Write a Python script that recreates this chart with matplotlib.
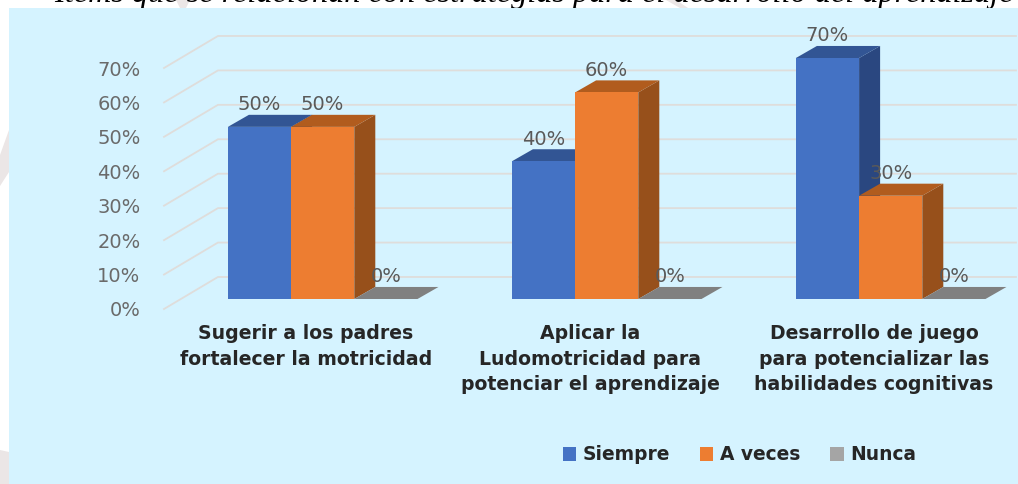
import matplotlib
matplotlib.use('Agg')
import matplotlib.pyplot as plt
from matplotlib.patches import Patch, Polygon, Rectangle

title = 'Ítems que se relacionan con estrategias para el desarrollo del aprendizaje'
categories = ['Sugerir a los padres\nfortalecer la motricidad',
              'Aplicar la\nLudomotricidad para\npotenciar el aprendizaje',
              'Desarrollo de juego\npara potencializar las\nhabilidades cognitivas']
series_names = ['Siempre', 'A veces', 'Nunca']
siempre = [50, 40, 70]
a_veces = [50, 60, 30]
nunca = [0, 0, 0]
y_ticks = [0, 10, 20, 30, 40, 50, 60, 70]

W, H = 1018, 484
fig = plt.figure(figsize=(W / 100, H / 100), dpi=100, facecolor='white')

# faint watermark behind the panel
wm = '#ebe6e6'
for pts in [[(0, 155), (9, 130), (9, 172), (0, 186)],
            [(0, 450), (9, 452), (9, 484), (0, 484)],
            [(176, 0), (190, 0), (186, 8), (180, 8)],
            [(666, 0), (676, 0), (688, 8), (680, 8)]]:
    fig.add_artist(Polygon([(x / W, 1 - y / H) for x, y in pts], color=wm, lw=0,
                           transform=fig.transFigure, zorder=0))

# the title is cut by the top edge in the source too
fig.text(534 / W, 1 - 2 / H, title, family='Liberation Serif', style='italic',
         fontsize=23.2, ha='center', va='baseline', color='black', zorder=1)

fig.add_artist(Rectangle((9 / W, 0), 1 - 9 / W, 1 - 8 / H, color='#d5f3ff', lw=0,
                         transform=fig.transFigure, zorder=2))

ax = fig.add_axes([164 / W, 1 - 309 / H, 852 / W, 241 / H], zorder=3)
ax.patch.set_alpha(0)
ax.set_xlim(-0.5, 2.5)
ax.set_ylim(0, 70)
for s in ax.spines.values():
    s.set_visible(False)

# wall depth and bar depth, data units
wall_dx, wall_dy = 0.19, 9.3
bar_dx, bar_dy = 0.074, 3.5
floor = 2.9      # bars stand a little behind the front edge
bar_w = 0.2225
bar_x0 = 0.275   # left edge of a group, from the category centre
x_pos = list(range(len(categories)))

for t in y_ticks:
    ax.plot([-0.5, -0.5 + wall_dx, 2.5], [t, t + wall_dy, t + wall_dy],
            color='#dfdddb', lw=1.3, clip_on=False, zorder=1)

colors = [('#4472c4', '#325594', '#2a4780'),
          ('#ed7d31', '#b15c1e', '#97501b'),
          ('#a5a5a5', '#808080', '#6b6b6b')]
label_color = '#595959'

for s_i, vals in enumerate([siempre, a_veces, nunca]):
    front, top, side = colors[s_i]
    for c_i, v in zip(x_pos, vals):
        x0 = c_i - bar_x0 + s_i * bar_w
        x1 = x0 + bar_w
        y1 = floor + v
        z = 2 + s_i
        ax.add_patch(Polygon([(x1, floor), (x1 + bar_dx, floor + bar_dy),
                              (x1 + bar_dx, y1 + bar_dy), (x1, y1)],
                             color=side, lw=0, clip_on=False, zorder=z))
        ax.add_patch(Polygon([(x0, y1), (x0 + bar_dx, y1 + bar_dy),
                              (x1 + bar_dx, y1 + bar_dy), (x1, y1)],
                             color=top, lw=0, clip_on=False, zorder=z))
        ax.bar(x0, v, bar_w, bottom=floor, align='edge', color=front, lw=0,
               clip_on=False, zorder=z)
        ax.text((x0 + x1) / 2, y1 + 6.4, f'{v}%', ha='center', va='center',
                fontsize=14, color=label_color, clip_on=False, zorder=10)

ax.set_yticks(y_ticks)
ax.set_yticklabels([f'{t}%' for t in y_ticks])
ax.tick_params(axis='y', length=0, pad=17, labelsize=14, labelcolor='#6a6a6a')
ax.set_xticks(x_pos)
ax.set_xticklabels(categories, fontsize=13.6, fontweight='bold', color='#262626',
                   linespacing=1.42)
ax.tick_params(axis='x', length=0, pad=11)

handles = [Patch(color=colors[i][0], lw=0, label=series_names[i]) for i in range(3)]
leg = fig.legend(handles=handles, loc='center', ncol=3, frameon=False,
                 bbox_to_anchor=(739.5 / W, 1 - 455 / H),
                 handlelength=0.72, handleheight=0.72, handletextpad=0.35,
                 columnspacing=1.6, borderpad=0, labelcolor='#262626',
                 prop={'weight': 'bold', 'size': 13.4})
leg.set_zorder(5)

fig.savefig('out.png', dpi=100)
